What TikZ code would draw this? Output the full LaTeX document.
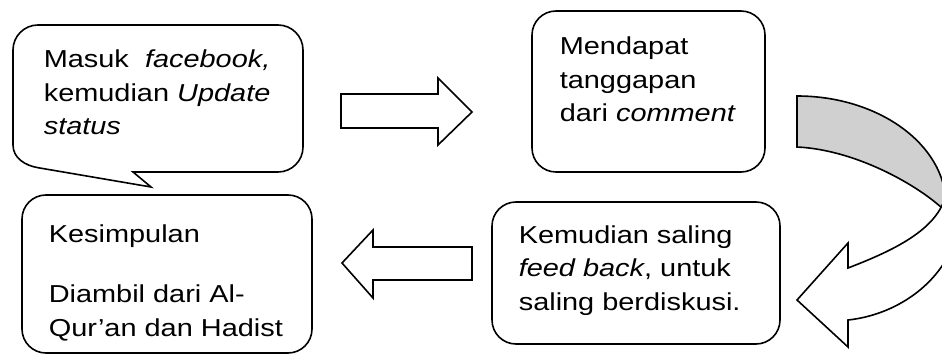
\documentclass[tikz,border=0pt]{standalone}
\usepackage{fontspec}
\setmainfont[FakeStretch=1.18]{Liberation Sans}
\definecolor{arrowgray}{RGB}{208,208,208}
\begin{document}
\begin{tikzpicture}[x=1pt,y=-1pt,line width=1.6pt,line join=miter,
  box/.style={draw,rounded corners=24pt,inner sep=0pt,fill=white},
  txt/.style={anchor=base west,inner sep=0pt,align=left,font=\fontsize{24.5}{33.5}\selectfont},
  blockarrow/.style={draw,fill=white,line join=miter}]
\useasboundingbox (0,0) rectangle (942,355);
\begin{scope}
\clip (0,0) rectangle (942,355);
% callout
\draw[fill=white] (133,172) -- (278,172) .. controls (291.8,172) and (303,160.8) .. (303,147)
  -- (303,50) .. controls (303,36.2) and (291.8,25) .. (278,25)
  -- (38,25) .. controls (24.2,25) and (13,36.2) .. (13,50)
  -- (13,145) .. controls (13,158) and (25,165.5) .. (38,167.7)
  -- (151,187) -- cycle;
\node[txt] (t1) at (43,135) {Masuk~ \textit{facebook,}\\kemudian \textit{Update}\\\textit{status}};
% boxes
\node[box,minimum width=233pt,minimum height=161pt] (b2) at (648.5,91.5) {};
\node[txt] (t2) at (559,122) {Mendapat\\tanggapan\\dari \textit{comment}};
\node[box,minimum width=288pt,minimum height=142pt] (b3) at (636,273) {};
\node[txt] (t3) at (518,310) {Kemudian saling\\\textit{feed back}, untuk\\saling berdiskusi.};
\node[box,minimum width=290pt,minimum height=158pt] (b4) at (167,274) {};
\node[txt] (t4) at (48,336) {Kesimpulan\\[27pt]Diambil dari Al-\\Qur’an dan Hadist};
% block arrows
\draw[blockarrow] (341,94) -- (438,94) -- (438,78) -- (472,112) -- (438,145) -- (438,128) -- (341,128) -- cycle;
\draw[blockarrow] (472,247) -- (373,247) -- (373,230) -- (342,263) -- (373,298) -- (373,280) -- (472,280) -- cycle;
% curved arrow
\draw[fill=arrowgray] (797,96) .. controls (879,96) and (946,145) .. (946,205) -- (946,212)
  .. controls (925,190) and (860,150) .. (797,147) -- cycle;
\draw[fill=white] (797,300) -- (848,243) -- (848,268) .. controls (895,250) and (935,230) .. (945,198)
  -- (960,200) -- (955,240) .. controls (940,285) and (895,315) .. (848,320) -- (848,347) -- cycle;
\end{scope}
\end{tikzpicture}
\end{document}
